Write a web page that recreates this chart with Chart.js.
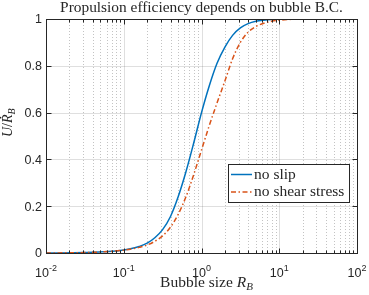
<!DOCTYPE html>
<html lang="en">
<head>
<meta charset="UTF-8">
<title>Propulsion efficiency depends on bubble B.C.</title>
<style>
    body {
        margin: 0;
        background-color: #ffffff;
    }
    #wrap {
        width: 369px;
        height: 295px;
    }
</style>
</head>
<body>
<div id="wrap"><canvas id="effChart" width="369" height="295"></canvas></div>

<script src="https://cdn.jsdelivr.net/npm/chart.js"></script>
<script>
    const bubbleSize = [0.01, 0.0316, 0.063, 0.1, 0.126, 0.158, 0.2, 0.251, 0.316, 0.398, 0.501, 0.631, 0.794, 1,
                        1.26, 1.58, 2.0, 2.51, 3.16, 3.98, 5.01, 6.31, 7.94, 10, 15.8, 31.6, 100];
    const noSlip = [0, 0.002, 0.006, 0.013, 0.019, 0.028, 0.042, 0.065, 0.10, 0.155, 0.24, 0.347, 0.47, 0.6,
                    0.715, 0.81, 0.88, 0.93, 0.962, 0.98, 0.99, 0.995, 0.998, 0.999, 1.0, 1.0, 1.0];
    const noShearStress = [0, 0.002, 0.006, 0.012, 0.017, 0.024, 0.034, 0.05, 0.073, 0.11, 0.165, 0.24, 0.335, 0.44,
                           0.545, 0.64, 0.735, 0.83, 0.9, 0.944, 0.968, 0.982, 0.99, 0.995, 0.999, 1.0, 1.0];
    const seriesNames = ['no slip', 'no shear stress'];

    const yTicks = [0, 0.2, 0.4, 0.6, 0.8, 1];
    const yTickLabels = ['0', '0.2', '0.4', '0.6', '0.8', '1'];
    const xTicks = [0.01, 0.1, 1, 10, 100];
    const xTickExponents = ['-2', '-1', '0', '1', '2'];

    const titleText = 'Propulsion efficiency depends on bubble B.C.';

    const serif = '"Liberation Serif", "DejaVu Serif", serif';
    const sans = '"Liberation Sans", Arial, sans-serif';
    const axisColor = '#262626';

    function crisp(v) {
        return Math.round(v) + 0.5;
    }

    function seg(ctx, x1, y1, x2, y2) {
        ctx.beginPath();
        ctx.moveTo(x1, y1);
        ctx.lineTo(x2, y2);
        ctx.stroke();
    }

    // draws a run of [text, font, dy] pieces starting at x, returns end x
    function drawPieces(ctx, pieces, x, y) {
        for (const p of pieces) {
            ctx.font = p[1];
            ctx.fillText(p[0], x, y + (p[2] || 0));
            x += ctx.measureText(p[0]).width;
        }
        return x;
    }

    function piecesWidth(ctx, pieces) {
        let w = 0;
        for (const p of pieces) {
            ctx.font = p[1];
            w += ctx.measureText(p[0]).width;
        }
        return w;
    }

    // MATLAB style box, grid, ticks, labels and legend
    const matlabAxes = {
        id: 'matlabAxes',
        beforeDatasetsDraw(chart) {
            const { ctx, chartArea: a, scales: { x, y } } = chart;
            ctx.save();
            ctx.lineWidth = 1;

            // minor grid (dotted)
            ctx.strokeStyle = 'rgba(38,38,38,0.28)';
            ctx.setLineDash([1, 2]);
            for (let i = 0; i < xTicks.length - 1; i++) {
                for (let k = 2; k <= 9; k++) {
                    const px = crisp(x.getPixelForValue(k * xTicks[i]));
                    seg(ctx, px, a.top, px, a.bottom);
                }
            }

            // major grid
            ctx.setLineDash([]);
            ctx.strokeStyle = 'rgba(38,38,38,0.15)';
            xTicks.forEach(v => {
                const px = crisp(x.getPixelForValue(v));
                seg(ctx, px, a.top, px, a.bottom);
            });
            yTicks.forEach(v => {
                const py = crisp(y.getPixelForValue(v));
                seg(ctx, a.left, py, a.right, py);
            });
            ctx.restore();
        },
        afterDatasetsDraw(chart) {
            const { ctx, chartArea: a, scales: { x, y } } = chart;
            ctx.save();
            ctx.strokeStyle = axisColor;
            ctx.fillStyle = axisColor;
            ctx.lineWidth = 1;

            const L = crisp(a.left), R = crisp(a.right), T = crisp(a.top), B = crisp(a.bottom);

            // ticks
            xTicks.forEach(v => {
                const px = crisp(x.getPixelForValue(v));
                seg(ctx, px, B, px, B - 5);
                seg(ctx, px, T, px, T + 5);
            });
            for (let i = 0; i < xTicks.length - 1; i++) {
                for (let k = 2; k <= 9; k++) {
                    const px = crisp(x.getPixelForValue(k * xTicks[i]));
                    seg(ctx, px, B, px, B - 3);
                    seg(ctx, px, T, px, T + 3);
                }
            }
            yTicks.forEach(v => {
                const py = crisp(y.getPixelForValue(v));
                seg(ctx, L, py, L + 5, py);
                seg(ctx, R, py, R - 5, py);
            });

            // box
            ctx.strokeRect(L, T, R - L, B - T);

            // y tick labels
            ctx.font = '12.5px ' + sans;
            ctx.textAlign = 'right';
            ctx.textBaseline = 'middle';
            yTicks.forEach((v, i) => {
                ctx.fillText(yTickLabels[i], a.left - 4, y.getPixelForValue(v) + 1);
            });

            // x tick labels 10^n
            ctx.textAlign = 'left';
            ctx.textBaseline = 'alphabetic';
            xTicks.forEach((v, i) => {
                const pieces = [['10', '12.5px ' + sans, 0], [xTickExponents[i], '9px ' + sans, -6]];
                const w = piecesWidth(ctx, pieces);
                drawPieces(ctx, pieces, x.getPixelForValue(v) - w / 2, 277);
            });

            // x axis title
            const xPieces = [['Bubble size ', '15.5px ' + serif, 0], ['R', 'italic 15.5px ' + serif, 0],
                             ['B', 'italic 11px ' + serif, 3]];
            const xw = piecesWidth(ctx, xPieces);
            drawPieces(ctx, xPieces, 153 + (107 - xw) / 2, 287);

            // y axis title, U / R-dot _B
            ctx.save();
            ctx.translate(12, 137);
            ctx.rotate(-Math.PI / 2);
            let px = drawPieces(ctx, [['U', 'italic 14px ' + serif, 0], ['/', '14px ' + serif, 0]], 0, 0);
            ctx.font = 'italic 14px ' + serif;
            const rw = ctx.measureText('R').width;
            ctx.fillText('R', px, 0);
            ctx.beginPath();
            ctx.arc(px + rw * 0.62, -11.5, 0.9, 0, Math.PI * 2);
            ctx.fill();
            drawPieces(ctx, [['B', 'italic 10px ' + serif, 3]], px + rw, 0);
            ctx.restore();

            // title, fitted to the reference width
            ctx.font = '14px ' + serif;
            const tSize = 14 * 283 / ctx.measureText(titleText).width;
            ctx.font = tSize.toFixed(2) + 'px ' + serif;
            ctx.textAlign = 'center';
            ctx.fillText(titleText, (a.left + a.right) / 2, 12);

            // legend
            const lx = 228, ly = 164, lw = 121, lh = 38;
            ctx.fillStyle = '#ffffff';
            ctx.fillRect(lx, ly, lw, lh);
            ctx.strokeStyle = axisColor;
            ctx.lineWidth = 1;
            ctx.strokeRect(lx + 0.5, ly + 0.5, lw, lh);
            ctx.textAlign = 'left';
            ctx.textBaseline = 'middle';
            ctx.font = '15.5px ' + serif;
            chart.data.datasets.forEach((ds, i) => {
                const ry = ly + 10.5 + i * 17.5;
                ctx.strokeStyle = ds.borderColor;
                ctx.lineWidth = ds.borderWidth;
                ctx.setLineDash(ds.borderDash || []);
                seg(ctx, lx + 3, ry, lx + 24, ry);
                ctx.setLineDash([]);
                ctx.fillStyle = axisColor;
                ctx.fillText(ds.label, lx + 26, ry);
            });

            ctx.restore();
        }
    };

    const ctx = document.getElementById('effChart').getContext('2d');

    const effChart = new Chart(ctx, {
        type: 'line',
        data: {
            datasets: [{
                label: seriesNames[0],
                data: bubbleSize.map((r, i) => ({ x: r, y: noSlip[i] })),
                borderColor: '#0072BD',
                borderWidth: 1.5,
                pointRadius: 0,
                cubicInterpolationMode: 'monotone',
                order: 1
            }, {
                label: seriesNames[1],
                data: bubbleSize.map((r, i) => ({ x: r, y: noShearStress[i] })),
                borderColor: '#D95319',
                borderWidth: 1.5,
                borderDash: [5, 2.5, 1.5, 2.5],
                pointRadius: 0,
                cubicInterpolationMode: 'monotone',
                order: 0
            }]
        },
        options: {
            responsive: false,
            animation: false,
            devicePixelRatio: 1,
            layout: {
                padding: { left: 46, right: 12, top: 19, bottom: 42 }
            },
            scales: {
                x: { type: 'logarithmic', min: 0.01, max: 100, display: false },
                y: { type: 'linear', min: 0, max: 1, display: false }
            },
            plugins: {
                legend: { display: false },
                title: { display: false },
                tooltip: { enabled: false }
            }
        },
        plugins: [matlabAxes]
    });
</script>
</body>
</html>
